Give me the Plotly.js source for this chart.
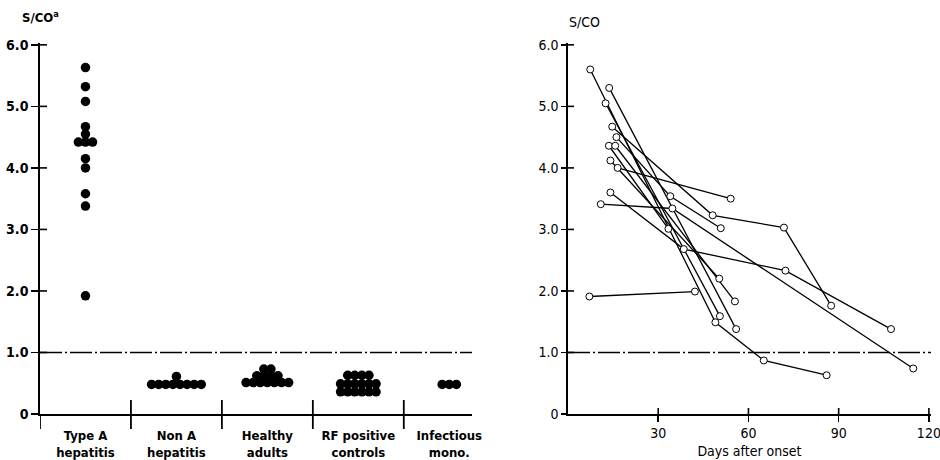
<!DOCTYPE html>
<html>
<head>
<meta charset="utf-8">
<script src="https://cdn.plot.ly/plotly-3.0.1.min.js"></script>
<style>html,body{margin:0;padding:0;background:#fff;}#chart{width:940px;height:460px;}</style>
</head>
<body>
<div id="chart"></div>
<script>
// ---------- Data (left panel) ----------
const categories = ['Type A<br>hepatitis', 'Non A<br>hepatitis', 'Healthy<br>adults', 'RF positive<br>controls', 'Infectious<br>mono.'];
const typeAHepatitis = [5.63, 5.32, 5.08, 4.67, 4.55, 4.42, 4.42, 4.42, 4.15, 4.00, 3.58, 3.38, 1.92];
const nonAHepatitis = [0.48, 0.48, 0.48, 0.48, 0.48, 0.48, 0.48, 0.48, 0.61];
const healthyAdults = [0.51, 0.51, 0.51, 0.51, 0.51, 0.51, 0.51, 0.62, 0.62, 0.62, 0.62, 0.73, 0.73];
const rfPositiveControls = [0.36, 0.36, 0.36, 0.36, 0.36, 0.36, 0.49, 0.49, 0.49, 0.49, 0.49, 0.49, 0.63, 0.63, 0.63, 0.63];
const infectiousMono = [0.48, 0.48, 0.48];
const groups = [typeAHepatitis, nonAHepatitis, healthyAdults, rfPositiveControls, infectiousMono];

// ---------- Data (right panel: serial specimens, days after onset / S/CO) ----------
const patientDays = [
  [7.4, 49.0, 65.1, 86.0],
  [13.7, 55.9],
  [12.5, 50.5],
  [14.7, 48.1, 71.8, 87.5],
  [16.1, 34.0, 50.8],
  [13.6, 33.4],
  [15.7, 55.5],
  [14.1, 50.3],
  [16.5, 54.1],
  [14.1, 38.5, 72.3, 107.4],
  [10.9, 34.7, 114.8],
  [7.1, 42.2]
];
const patientSCO = [
  [5.60, 1.49, 0.87, 0.63],
  [5.30, 1.38],
  [5.05, 1.59],
  [4.67, 3.23, 3.03, 1.76],
  [4.50, 3.54, 3.02],
  [4.36, 3.01],
  [4.36, 1.83],
  [4.12, 2.20],
  [4.00, 3.50],
  [3.60, 2.68, 2.33, 1.38],
  [3.41, 3.34, 0.74],
  [1.91, 1.99]
];
const yTickVals = [0, 1, 2, 3, 4, 5, 6];
const yTickText = ['0', '1.0', '2.0', '3.0', '4.0', '5.0', '6.0'];
const dayTicks = [30, 60, 90, 120];
const cutoff = 1.0;

// ---------- Layout helpers ----------
const W = 940, H = 460, MT = 43, MB = 46;
const PH = H - MT - MB;
const leftDom = [40 / W, 472 / W];
const rightDom = [568 / W, 931 / W];
const yMax = 6.03;
const xLeftMax = 4.75;
const xRightMax = 120.7;
const dotStep = 0.078;
const FONT = 'DejaVu Sans Condensed, Liberation Sans Narrow, Arial Narrow, sans-serif';

// Left panel dots: spread dots sharing the same value side by side
const traces = [];
groups.forEach((vals, gi) => {
  const counts = {};
  vals.forEach(v => counts[v] = (counts[v] || 0) + 1);
  const seen = {};
  const xs = [], ys = [];
  vals.forEach(v => {
    const n = counts[v];
    const k = seen[v] || 0;
    seen[v] = k + 1;
    xs.push(gi + 0.5 + (k - (n - 1) / 2) * dotStep);
    ys.push(v);
  });
  traces.push({
    x: xs, y: ys, xaxis: 'x', yaxis: 'y', type: 'scatter', mode: 'markers',
    marker: {size: 9.5, color: '#000'}, hoverinfo: 'y', cliponaxis: false
  });
});

// Right panel: one line per patient
patientDays.forEach((d, i) => {
  traces.push({
    x: d, y: patientSCO[i], xaxis: 'x2', yaxis: 'y2', type: 'scatter', mode: 'lines+markers',
    line: {color: '#000', width: 1.3},
    marker: {symbol: 'circle', size: 7, color: '#fff', line: {color: '#000', width: 1}},
    cliponaxis: false
  });
});

// Shapes: cross ticks, category separators, cutoff lines
const shapes = [];
const tickLine = {color: '#000', width: 1.6};
yTickVals.forEach(v => {
  if (v === 0) return;
  shapes.push({type: 'line', xref: 'paper', yref: 'y', x0: leftDom[0], x1: leftDom[0] + 7 / W, y0: v, y1: v, line: tickLine});
  shapes.push({type: 'line', xref: 'paper', yref: 'y2', x0: rightDom[0], x1: rightDom[0] + 6 / W, y0: v, y1: v, line: tickLine});
});
for (let k = 0; k < categories.length; k++) {
  shapes.push({type: 'line', xref: 'x', yref: 'paper', x0: k, x1: k, y0: -15 / PH, y1: k === 0 ? 0 : 14 / PH, line: {color: '#000', width: 1.8}});
}
dayTicks.forEach(t => {
  shapes.push({type: 'line', xref: 'x2', yref: 'paper', x0: t, x1: t, y0: 0, y1: 6 / PH, line: tickLine});
});
const dashDot = '22px,3px,2px,3px';
shapes.push({type: 'line', xref: 'x', yref: 'y', x0: 0, x1: xLeftMax, y0: cutoff, y1: cutoff, line: {color: '#000', width: 1.4, dash: dashDot}});
shapes.push({type: 'line', xref: 'x2', yref: 'y2', x0: 0, x1: xRightMax, y0: cutoff, y1: cutoff, line: {color: '#000', width: 1.4, dash: dashDot}});

const axisCommon = {
  showgrid: false, zeroline: false, showline: true, linecolor: '#000', linewidth: 1.8,
  tickcolor: '#000', tickwidth: 1.6, fixedrange: true, ticklabeloverflow: 'allow'
};

const layout = {
  width: W, height: H,
  margin: {l: 0, r: 0, t: MT, b: MB},
  paper_bgcolor: '#fff', plot_bgcolor: '#fff',
  showlegend: false,
  font: {family: FONT, color: '#000', size: 13},
  xaxis: Object.assign({}, axisCommon, {
    domain: leftDom, range: [0, xLeftMax], anchor: 'y',
    tickvals: categories.map((c, i) => i + 0.5), ticktext: categories,
    ticks: '', ticklabelstandoff: 9,
    tickfont: {family: FONT, size: 13, weight: 'bold', color: '#000'}
  }),
  yaxis: Object.assign({}, axisCommon, {
    domain: [0, 1], range: [0, yMax], anchor: 'x',
    tickvals: yTickVals, ticktext: yTickText,
    ticks: 'outside', ticklen: 7,
    tickfont: {family: FONT, size: 14, weight: 'bold', color: '#000'}
  }),
  xaxis2: Object.assign({}, axisCommon, {
    domain: rightDom, range: [0, xRightMax], anchor: 'y2',
    tickvals: dayTicks, ticktext: dayTicks.map(String), ticks: 'outside', ticklen: 6, linewidth: 1.6,
    tickfont: {family: FONT, size: 14, color: '#000'},
    title: {text: 'Days after onset', font: {family: FONT, size: 14, color: '#000'}, standoff: 6}
  }),
  yaxis2: Object.assign({}, axisCommon, {
    domain: [0, 1], range: [0, yMax], anchor: 'x2', linewidth: 1.6,
    tickvals: yTickVals, ticktext: yTickText,
    ticks: 'outside', ticklen: 5,
    tickfont: {family: FONT, size: 14, color: '#000'}
  }),
  shapes: shapes,
  annotations: [
    {xref: 'paper', yref: 'paper', x: 20 / W, y: 1 + 26 / PH, xanchor: 'left', yanchor: 'middle',
     text: 'S/CO<sup>a</sup>', showarrow: false, font: {family: FONT, size: 13, weight: 'bold', color: '#000'}},
    {xref: 'paper', yref: 'paper', x: 567 / W, y: 1 + 21 / PH, xanchor: 'left', yanchor: 'middle',
     text: 'S/CO', showarrow: false, font: {family: FONT, size: 14, color: '#000'}}
  ]
};

Plotly.newPlot('chart', traces, layout, {displayModeBar: false, staticPlot: true});
</script>
</body>
</html>
